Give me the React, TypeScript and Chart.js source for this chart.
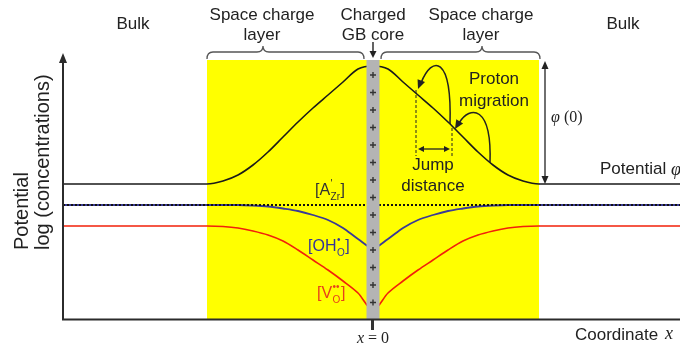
import React, { useEffect, useRef } from "react";
import { Chart, registerables } from "chart.js";

Chart.register(...registerables);

// Coordinate across the grain boundary (a.u., 0 = charged GB core)
const positions = [-310, -166, -150, -135, -120, -105, -90, -75, -60, -45, -30, -15, 0, 15, 30, 45, 60, 75, 90, 105, 120, 135, 150, 166, 307];
// Electrostatic potential (a.u.)
const potential = [136, 136, 139, 145, 155, 168, 183, 198, 212, 225, 238, 251, 254, 251, 238, 225, 212, 198, 183, 168, 155, 145, 139, 136, 136];
// log [OH_O•] (a.u.)
const hydroxide = [115, 115, 115, 115, 114.5, 113.5, 111.5, 109, 105, 100, 92, 81, 72, 81, 92, 100, 105, 109, 111.5, 113.5, 114.5, 115, 115, 115, 115];
// log [V_O••] (a.u.)
const vacancy = [94, 94, 93.5, 92, 89, 85, 79, 70, 60, 50, 39, 27, 10, 27, 39, 50, 60, 70, 79, 85, 89, 92, 93.5, 94, 94];
// log [A'_Zr] : flat acceptor level
const acceptorPositions = [-310, 307];
const acceptor = [115, 115];

// Regions
const layerHalfWidth = 166; // space charge layer extent
const coreHalfWidth = 6.5; // charged GB core
const layerTop = 260;
const xTickLabel = "x = 0";

const SANS = '"Liberation Sans", Arial, sans-serif';
const SERIF = '"Liberation Serif", "Times New Roman", serif';

function head(ctx: CanvasRenderingContext2D, x: number, y: number, ang: number, len = 8, w = 3.5) {
  ctx.beginPath();
  ctx.moveTo(x, y);
  ctx.lineTo(x - len * Math.cos(ang) + w * Math.sin(ang), y - len * Math.sin(ang) - w * Math.cos(ang));
  ctx.lineTo(x - len * Math.cos(ang) - w * Math.sin(ang), y - len * Math.sin(ang) + w * Math.cos(ang));
  ctx.closePath();
  ctx.fill();
}

function brace(ctx: CanvasRenderingContext2D, x1: number, x2: number, xm: number, yBase: number, yLine: number, yTip: number) {
  const r = 6;
  ctx.beginPath();
  ctx.moveTo(x1, yBase);
  ctx.quadraticCurveTo(x1, yLine, x1 + r, yLine);
  ctx.lineTo(xm - r, yLine);
  ctx.quadraticCurveTo(xm, yLine, xm, yTip);
  ctx.quadraticCurveTo(xm, yLine, xm + r, yLine);
  ctx.lineTo(x2 - r, yLine);
  ctx.quadraticCurveTo(x2, yLine, x2, yBase);
  ctx.stroke();
}

function kv(ctx: CanvasRenderingContext2D, x: number, y: number, main: string, sup: string, sub: string, color: string) {
  ctx.fillStyle = color;
  ctx.textAlign = "left";
  ctx.textBaseline = "middle";
  ctx.font = `16px ${SANS}`;
  ctx.fillText("[" + main, x, y);
  const cx = x + ctx.measureText("[" + main).width + 0.5;
  ctx.font = `10px ${SANS}`;
  const w = Math.max(ctx.measureText(sup).width, ctx.measureText(sub).width);
  ctx.fillText(sup, cx, y - 7);
  ctx.fillText(sub, cx, y + 6);
  ctx.font = `16px ${SANS}`;
  ctx.fillText("]", cx + w + 0.5, y);
}

const schematic = {
  id: "schematic",
  beforeDatasetsDraw(chart: any) {
    const { ctx, scales } = chart;
    const xs = scales.x, ys = scales.y;
    ctx.save();
    const l = xs.getPixelForValue(-layerHalfWidth), r = xs.getPixelForValue(layerHalfWidth);
    const t = ys.getPixelForValue(layerTop), b = ys.getPixelForValue(0);
    ctx.fillStyle = "#ffff00";
    ctx.fillRect(l, t, r - l, b - t);
    ctx.restore();
  },
  afterDatasetsDraw(chart: any) {
    const { ctx, scales, chartArea } = chart;
    const xs = scales.x, ys = scales.y;
    const cx = xs.getPixelForValue(0);
    const t = ys.getPixelForValue(layerTop), b = ys.getPixelForValue(0);
    ctx.save();

    // GB core bar
    const gl = xs.getPixelForValue(-coreHalfWidth), gr = xs.getPixelForValue(coreHalfWidth);
    ctx.fillStyle = "#b4b4b4";
    ctx.fillRect(gl, t, gr - gl, b - t);
    ctx.strokeStyle = "#333";
    ctx.lineWidth = 1.4;
    for (let k = 0; k < 14; k++) {
      const py = 75 + k * 17.5;
      ctx.beginPath();
      ctx.moveTo(cx - 3, py); ctx.lineTo(cx + 3, py);
      ctx.moveTo(cx, py - 3); ctx.lineTo(cx, py + 3);
      ctx.stroke();
    }

    // axes
    ctx.strokeStyle = "#2b2b2b";
    ctx.fillStyle = "#2b2b2b";
    ctx.lineWidth = 2;
    ctx.beginPath();
    ctx.moveTo(chartArea.left, b); ctx.lineTo(chartArea.left, 60);
    ctx.moveTo(chartArea.left - 1, b - 0.5); ctx.lineTo(chartArea.right, b - 0.5);
    ctx.stroke();
    head(ctx, chartArea.left, 53, -Math.PI / 2, 10, 4);
    // tick at x = 0
    ctx.lineWidth = 3;
    ctx.strokeStyle = "#333";
    ctx.beginPath(); ctx.moveTo(cx - 0.5, b); ctx.lineTo(cx - 0.5, b + 10); ctx.stroke();

    // braces
    ctx.strokeStyle = "#555";
    ctx.lineWidth = 1.3;
    brace(ctx, 207, 364, 263, 59, 52, 46);
    brace(ctx, 381, 540, 482, 59, 52, 46);

    // arrow to GB core
    ctx.strokeStyle = "#222"; ctx.fillStyle = "#222"; ctx.lineWidth = 1.4;
    ctx.beginPath(); ctx.moveTo(cx, 42); ctx.lineTo(cx, 52); ctx.stroke();
    head(ctx, cx, 58, Math.PI / 2, 7, 3.5);

    // proton migration arrows
    ctx.lineWidth = 1.5;
    ctx.beginPath(); ctx.moveTo(450, 124); ctx.bezierCurveTo(452, 55, 432, 55, 421, 83); ctx.stroke();
    head(ctx, 418, 89, Math.atan2(33, -13), 9, 4);
    ctx.beginPath(); ctx.moveTo(490, 163); ctx.bezierCurveTo(492, 105, 470, 105, 459, 123); ctx.stroke();
    head(ctx, 455, 129, Math.atan2(23, -14), 9, 4);

    // jump distance
    ctx.lineWidth = 1;
    ctx.setLineDash([3, 2]);
    ctx.beginPath();
    ctx.moveTo(416, 90); ctx.lineTo(416, 156);
    ctx.moveTo(452, 128); ctx.lineTo(452, 156);
    ctx.stroke();
    ctx.setLineDash([]);
    ctx.lineWidth = 1.3;
    ctx.beginPath(); ctx.moveTo(422, 149); ctx.lineTo(446, 149); ctx.stroke();
    head(ctx, 418, 149, Math.PI, 6, 3);
    head(ctx, 450, 149, 0, 6, 3);

    // phi(0) arrow
    const ax = xs.getPixelForValue(172);
    const pTop = t + 1, pBot = ys.getPixelForValue(potential[0]);
    ctx.lineWidth = 1.3;
    ctx.beginPath(); ctx.moveTo(ax, pTop + 6); ctx.lineTo(ax, pBot - 6); ctx.stroke();
    head(ctx, ax, pTop, -Math.PI / 2, 8, 3.5);
    head(ctx, ax, pBot, Math.PI / 2, 8, 3.5);

    // texts
    ctx.fillStyle = "#222";
    ctx.textAlign = "center";
    ctx.textBaseline = "middle";
    ctx.font = `17px ${SANS}`;
    ctx.fillText("Bulk", 133, 24);
    ctx.fillText("Bulk", 623, 24);
    ctx.fillText("Space charge", 262, 15);
    ctx.fillText("layer", 262, 35);
    ctx.fillText("Charged", 373, 15);
    ctx.fillText("GB core", 373, 35);
    ctx.fillText("Space charge", 481, 15);
    ctx.fillText("layer", 481, 35);
    ctx.fillText("Proton", 494, 79);
    ctx.fillText("migration", 494, 101);
    ctx.fillText("Jump", 433, 165);
    ctx.fillText("distance", 433, 186);

    ctx.textAlign = "left";
    ctx.fillText("Potential", 600, 169);
    ctx.fillText("Coordinate", 575, 335);
    ctx.font = `italic 18px ${SERIF}`;
    ctx.fillText("φ", 671, 170);
    ctx.fillText("x", 665, 334);

    // phi(0)
    ctx.font = `italic 16px ${SERIF}`;
    ctx.fillText("φ", 551, 118);
    ctx.font = `16px ${SERIF}`;
    ctx.fillText("(0)", 564, 118);

    // x = 0
    ctx.font = `16px ${SERIF}`;
    const rest = xTickLabel.slice(1);
    ctx.font = `italic 16px ${SERIF}`;
    const wx = ctx.measureText("x").width;
    ctx.font = `16px ${SERIF}`;
    const wr = ctx.measureText(rest).width;
    const sx = cx - (wx + wr) / 2;
    ctx.font = `italic 16px ${SERIF}`;
    ctx.fillText("x", sx, 339);
    ctx.font = `16px ${SERIF}`;
    ctx.fillText(rest, sx + wx, 339);

    // y axis title
    ctx.save();
    ctx.translate(0, 250);
    ctx.rotate(-Math.PI / 2);
    ctx.font = `20px ${SANS}`;
    ctx.textAlign = "left";
    ctx.fillText("Potential", 0, 22.5);
    ctx.fillText("log (concentrations)", 0, 43.5);
    ctx.restore();

    // species labels
    kv(ctx, 315, 191, "A", "'", "Zr", "#333");
    kv(ctx, 308, 247, "OH", "•", "O", "#333399");
    kv(ctx, 317, 294, "V", "••", "O", "#e8401a");

    ctx.restore();
  },
};

export default function App() {
  const ref = useRef<HTMLCanvasElement | null>(null);
  useEffect(() => {
    if (!ref.current) return;
    const pts = (xsArr: number[], ysArr: number[]) => xsArr.map((x, i) => ({ x, y: ysArr[i] }));
    const chart = new Chart(ref.current, {
      type: "line",
      data: {
        datasets: [
          { label: "[A'Zr]", data: pts(acceptorPositions, acceptor), borderColor: "#111", borderDash: [2, 2], borderWidth: 2, pointRadius: 0, order: 0 },
          { label: "Potential", data: pts(positions, potential), borderColor: "#1a1a1a", borderWidth: 1.6, pointRadius: 0, cubicInterpolationMode: "monotone", order: 1 },
          { label: "[OH]", data: pts(positions, hydroxide), borderColor: "#3a3a96", borderWidth: 1.8, pointRadius: 0, cubicInterpolationMode: "monotone", order: 2 },
          { label: "[V]", data: pts(positions, vacancy), borderColor: "#f2200a", borderWidth: 1.6, pointRadius: 0, cubicInterpolationMode: "monotone", order: 3 },
        ],
      } as any,
      options: {
        animation: false,
        responsive: false,
        events: [],
        layout: { padding: { left: 63, right: 0, top: 58, bottom: 30 } },
        scales: {
          x: { type: "linear", min: -310, max: 307, display: false },
          y: { min: 0, max: 262, display: false },
        },
        plugins: { legend: { display: false }, tooltip: { enabled: false } },
      } as any,
      plugins: [schematic as any],
    });
    return () => chart.destroy();
  }, []);
  return (
    <div style={{ position: "fixed", left: 0, top: 0, width: 680, height: 350, background: "#fff" }}>
      <canvas ref={ref} width={680} height={350} style={{ display: "block" }} />
    </div>
  );
}
